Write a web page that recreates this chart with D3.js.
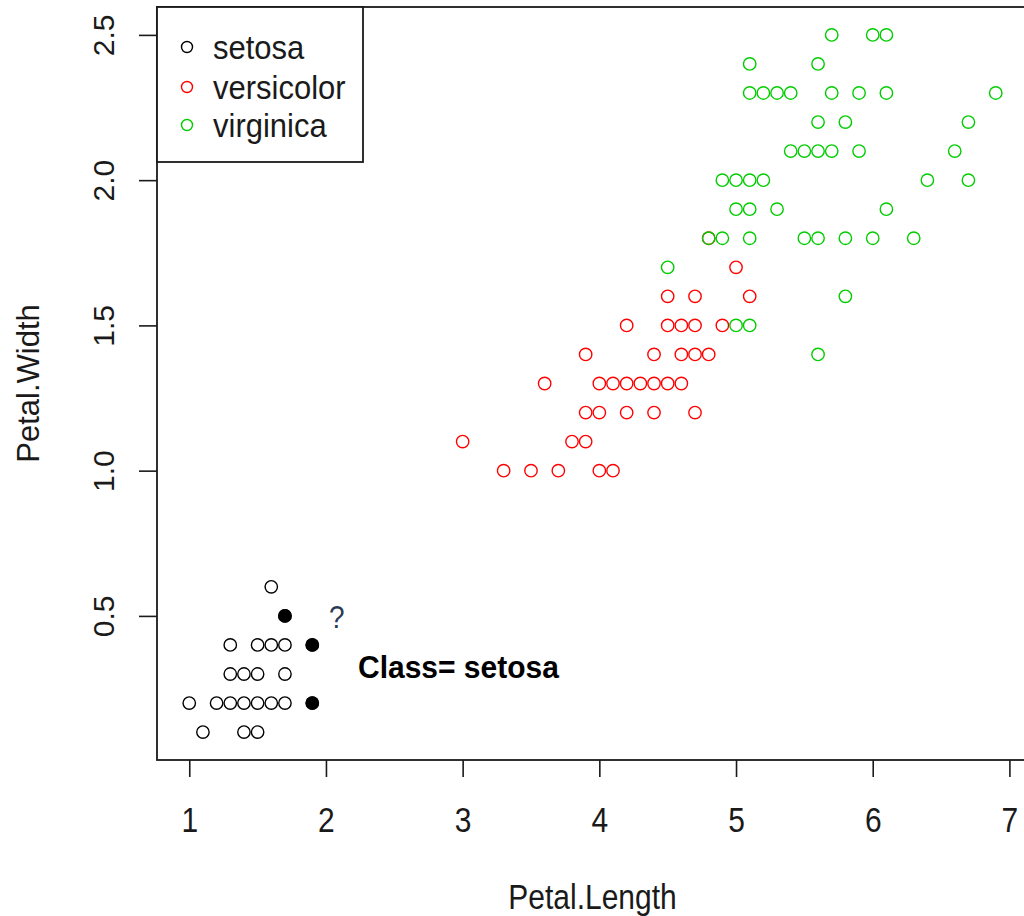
<!DOCTYPE html>
<html>
<head>
<meta charset="utf-8">
<script src="https://cdn.jsdelivr.net/npm/d3@7/dist/d3.min.js"></script>
<style>
  html, body { margin: 0; padding: 0; background: #fff; }
  svg { display: block; }
  text { font-family: "Liberation Sans", Arial, sans-serif; }
</style>
</head>
<body>
<svg id="chart" width="1024" height="916"></svg>
<script>
// ---- data (iris: Petal.Length / Petal.Width) ----
const species = ["setosa", "versicolor", "virginica"];
const speciesColors = ["#000000", "#FF0000", "#00CD00"];

const setosaLength = [1.4,1.4,1.3,1.5,1.4,1.7,1.4,1.5,1.4,1.5,1.5,1.6,1.4,1.1,1.2,1.5,1.3,1.4,1.7,1.5,1.7,1.5,1.0,1.7,1.9,1.6,1.6,1.5,1.4,1.6,1.6,1.5,1.5,1.4,1.5,1.2,1.3,1.4,1.3,1.5,1.3,1.3,1.3,1.6,1.9,1.4,1.6,1.4,1.5,1.4];
const setosaWidth  = [0.2,0.2,0.2,0.2,0.2,0.4,0.3,0.2,0.2,0.1,0.2,0.2,0.1,0.1,0.2,0.4,0.4,0.3,0.3,0.3,0.2,0.4,0.2,0.5,0.2,0.2,0.4,0.2,0.2,0.2,0.2,0.4,0.1,0.2,0.2,0.2,0.2,0.1,0.2,0.2,0.3,0.3,0.2,0.6,0.4,0.3,0.2,0.2,0.2,0.2];

const versicolorLength = [4.7,4.5,4.9,4.0,4.6,4.5,4.7,3.3,4.6,3.9,3.5,4.2,4.0,4.7,3.6,4.4,4.5,4.1,4.5,3.9,4.8,4.0,4.9,4.7,4.3,4.4,4.8,5.0,4.5,3.5,3.8,3.7,3.9,5.1,4.5,4.5,4.7,4.4,4.1,4.0,4.4,4.6,4.0,3.3,4.2,4.2,4.2,4.3,3.0,4.1];
const versicolorWidth  = [1.4,1.5,1.5,1.3,1.5,1.3,1.6,1.0,1.3,1.4,1.0,1.5,1.0,1.4,1.3,1.4,1.5,1.0,1.5,1.1,1.8,1.3,1.5,1.2,1.3,1.4,1.4,1.7,1.5,1.0,1.1,1.0,1.2,1.6,1.5,1.6,1.5,1.3,1.3,1.3,1.2,1.4,1.2,1.0,1.3,1.2,1.3,1.3,1.1,1.3];

const virginicaLength = [6.0,5.1,5.9,5.6,5.8,6.6,4.5,6.3,5.8,6.1,5.1,5.3,5.5,5.0,5.1,5.3,5.5,6.7,6.9,5.0,5.7,4.9,6.7,4.9,5.7,6.0,4.8,4.9,5.6,5.8,6.1,6.4,5.6,5.1,5.6,6.1,5.6,5.5,4.8,5.4,5.6,5.1,5.1,5.9,5.7,5.2,5.0,5.2,5.4,5.1];
const virginicaWidth  = [2.5,1.9,2.1,1.8,2.2,2.1,1.7,1.8,1.8,2.5,2.0,1.9,2.1,2.0,2.4,2.3,1.8,2.2,2.3,1.5,2.3,2.0,2.0,1.8,2.1,1.8,1.8,1.8,2.1,1.6,1.9,2.0,2.2,1.5,1.4,2.3,2.4,1.8,1.8,2.1,2.4,2.3,1.9,2.3,2.5,2.3,1.9,2.0,2.3,1.8];

// nearest neighbours (filled) and the query point
const neighbourLength = [1.7, 1.9, 1.9];
const neighbourWidth  = [0.5, 0.4, 0.2];
const queryPoint = [2.08, 0.5];
const queryLabel = "?";
const classLabel = "Class= setosa";
const classLabelAt = [2.25, 0.325];

const xTicks = [1, 2, 3, 4, 5, 6, 7];
const yTicks = [0.5, 1.0, 1.5, 2.0, 2.5];
const xTitle = "Petal.Length";
const yTitle = "Petal.Width";

// ---- drawing ----
const svg = d3.select("#chart");
const plotLeft = 157, plotRight = 1028, plotTop = 7, plotBottom = 760;
const FONT = 30;
const STRETCH = 1.15; // source image is slightly stretched vertically
const INK = "#1a1a1a";

const x = d3.scaleLinear().domain([0.764, 7.136]).range([plotLeft, plotRight]);
const y = d3.scaleLinear().domain([0.004, 2.596]).range([plotBottom, plotTop]);

svg.append("rect").attr("width", 1024).attr("height", 916).attr("fill", "#fff");

// axes
const xAxis = svg.append("g")
  .attr("transform", `translate(0,${plotBottom})`)
  .call(d3.axisBottom(x).tickValues(xTicks).tickSize(17).tickSizeOuter(0).tickFormat(d3.format("d")));
xAxis.select(".domain").remove();
xAxis.selectAll(".tick line").attr("stroke", INK).attr("stroke-width", 1.6);
xAxis.selectAll(".tick text")
  .attr("y", 0).attr("dy", "0.36em")
  .attr("transform", `translate(0,60) scale(1,${STRETCH})`)
  .attr("font-size", FONT).attr("fill", INK)
  .attr("font-family", "Liberation Sans, Arial, sans-serif");

const yAxis = svg.append("g")
  .attr("transform", `translate(${plotLeft},0)`)
  .call(d3.axisLeft(y).tickValues(yTicks).tickSize(18).tickSizeOuter(0).tickFormat(d3.format(".1f")));
yAxis.select(".domain").remove();
yAxis.selectAll(".tick line").attr("stroke", INK).attr("stroke-width", 1.6);
yAxis.selectAll(".tick text")
  .attr("x", 0).attr("dy", "0.36em")
  .attr("transform", "translate(-54,0) rotate(-90)")
  .attr("text-anchor", "middle")
  .attr("font-size", FONT).attr("fill", INK)
  .attr("font-family", "Liberation Sans, Arial, sans-serif");

// plot box
svg.append("rect")
  .attr("x", plotLeft).attr("y", plotTop)
  .attr("width", plotRight - plotLeft).attr("height", plotBottom - plotTop)
  .attr("fill", "none").attr("stroke", INK).attr("stroke-width", 1.8);

// axis titles
svg.append("text")
  .attr("transform", `translate(${(plotLeft + plotRight) / 2},897) scale(1,${STRETCH})`)
  .attr("text-anchor", "middle").attr("dy", "0.36em")
  .attr("font-size", FONT).attr("fill", INK)
  .text(xTitle);
svg.append("text")
  .attr("transform", `translate(28,${(plotTop + plotBottom) / 2}) rotate(-90)`)
  .attr("text-anchor", "middle").attr("dy", "0.36em")
  .attr("font-size", 31).attr("fill", INK)
  .text(yTitle);

// points (identical coordinates overprint; draw each distinct position once)
const groups = [
  [setosaLength, setosaWidth],
  [versicolorLength, versicolorWidth],
  [virginicaLength, virginicaWidth]
];
groups.forEach(([lens, wids], i) => {
  const pts = lens.map((l, j) => [l, wids[j]]);
  const uniq = Array.from(d3.group(pts, d => d[0] + "," + d[1]).values(), g => g[0]);
  svg.append("g").selectAll("circle")
    .data(uniq)
    .join("circle")
    .attr("cx", d => x(d[0]))
    .attr("cy", d => y(d[1]))
    .attr("r", 6.2)
    .attr("fill", "none")
    .attr("stroke", speciesColors[i])
    .attr("stroke-width", 1.4);
});

svg.append("g").selectAll("circle")
  .data(neighbourLength.map((l, j) => [l, neighbourWidth[j]]))
  .join("circle")
  .attr("cx", d => x(d[0]))
  .attr("cy", d => y(d[1]))
  .attr("r", 6.8)
  .attr("fill", "#000");

// query point "?"
svg.append("text")
  .attr("transform", `translate(${x(queryPoint[0])},${y(queryPoint[1])}) scale(1,${STRETCH})`)
  .attr("dy", "0.36em").attr("text-anchor", "middle")
  .attr("font-family", "Lato, 'Open Sans', sans-serif")
  .attr("font-size", 28).attr("fill", "#2b3a55")
  .text(queryLabel);

// class annotation
svg.append("text")
  .attr("transform", `translate(358,${y(classLabelAt[1])}) scale(1,1.07)`)
  .attr("dy", "0.36em")
  .attr("font-family", "Lato, 'Open Sans', sans-serif")
  .attr("font-weight", "bold")
  .attr("font-size", 30).attr("fill", "#000")
  .text(classLabel);

// legend
const legend = svg.append("g");
legend.append("rect")
  .attr("x", plotLeft).attr("y", plotTop)
  .attr("width", 363 - plotLeft).attr("height", 162 - plotTop)
  .attr("fill", "#fff").attr("stroke", INK).attr("stroke-width", 1.8);
const legendY = [47, 87, 125];
species.forEach((s, i) => {
  legend.append("circle")
    .attr("cx", 187).attr("cy", legendY[i]).attr("r", 5.5)
    .attr("fill", "none").attr("stroke", speciesColors[i]).attr("stroke-width", 1.4);
  legend.append("text")
    .attr("transform", `translate(213,${legendY[i]}) scale(1,1.1)`)
    .attr("dy", "0.36em")
    .attr("font-size", 31).attr("fill", INK)
    .text(s);
});
</script>
</body>
</html>
